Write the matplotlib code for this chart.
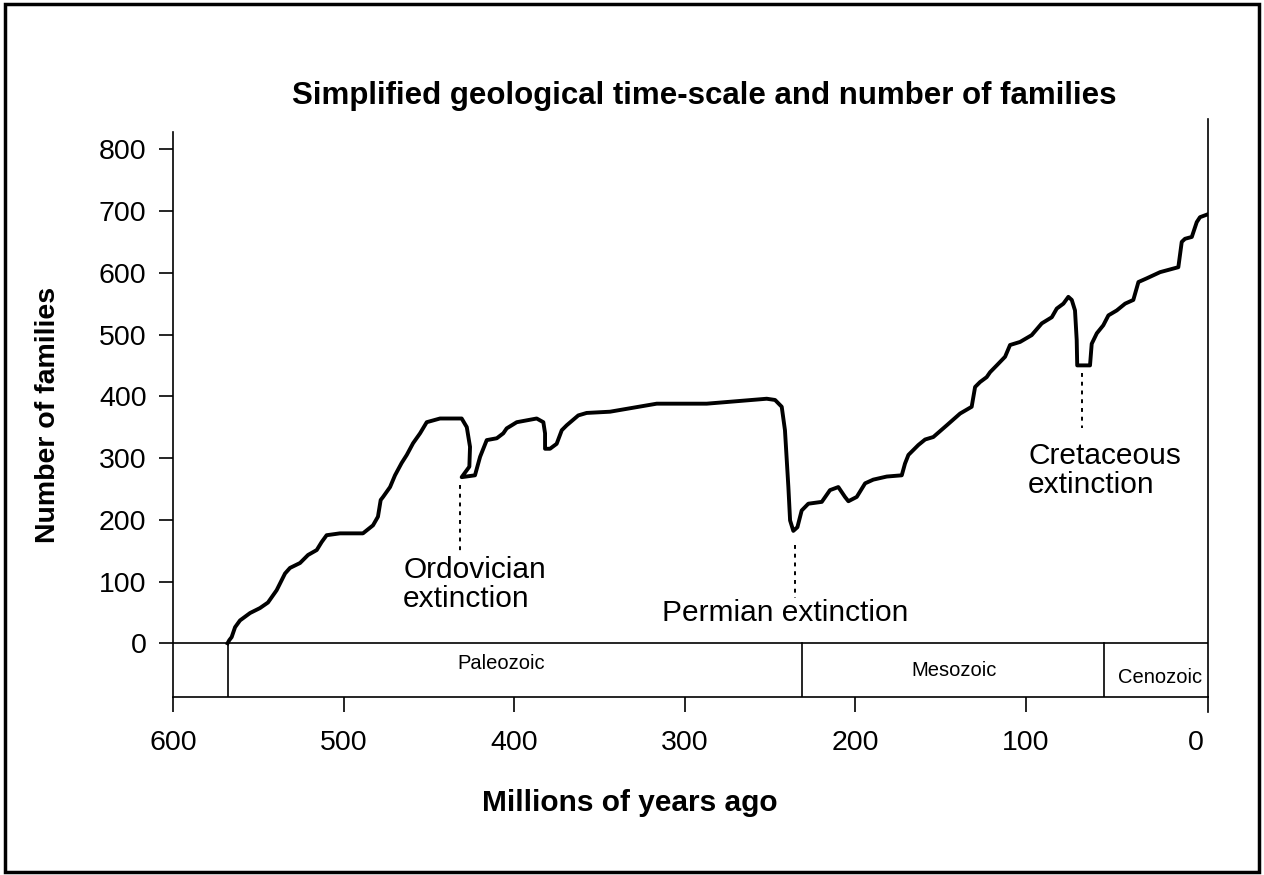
import matplotlib
matplotlib.use("Agg")
import matplotlib.pyplot as plt
from matplotlib.patches import Rectangle

plt.rcParams['font.family'] = ['Liberation Sans', 'DejaVu Sans']

# number of families through time (millions of years ago)
age = [568, 567, 565.6, 563.6, 560.7, 554.8, 549.0, 544.3, 539.2, 534.3, 531.4,
       525.5, 520.8, 515.7, 512.8, 509.9, 502.1, 488.6, 482.7, 479.8, 478.2,
       476.8, 472.7, 469.8, 465.9, 462.9, 459.2, 455.1, 451.2, 443.4, 430.7,
       427.7, 425.8, 426.2, 430.7, 422.9, 419.9, 416.0, 410.1, 406.3, 404.3,
       398.4, 386.7, 382.8, 381.8, 381.8, 378.9, 375.0, 372.0, 369.1, 362.3,
       357.4, 343.7, 316.3, 287.0, 251.8, 246.9, 243.0, 241.1, 239.1, 238.1,
       236.2, 233.8, 231.3, 227.4, 219.5, 214.7, 209.8, 205.9, 203.9, 199.0,
       194.1, 189.3, 181.4, 172.6, 170.7, 168.7, 162.9, 158.9, 154.1, 146.2,
       138.4, 131.6, 129.6, 126.7, 122.8, 120.8, 116.9, 112.0, 109.1, 103.2,
       96.4, 90.5, 84.6, 81.7, 77.8, 74.9, 72.9, 71.0, 70.0, 69.7, 62.2, 61.2,
       58.2, 54.4, 51.4, 46.5, 41.6, 36.8, 33.8, 28.9, 21.1, 10.4, 8.4, 6.5,
       2.5, -0.4, -2.3, -7.2]
families = [0, 5, 10, 26, 37, 49, 57, 66, 86, 113, 122,
            130, 143, 151, 164, 175, 178, 178, 191, 205, 232,
            237, 253, 272, 292, 305, 324, 340, 358, 364, 364,
            350, 318, 286, 269, 272, 302, 329, 332, 340, 348,
            358, 364, 358, 340, 315, 315, 323, 345, 353, 369,
            373, 375, 388, 388, 396, 394, 383, 345, 253, 199,
            182, 188, 215, 226, 229, 248, 253, 237, 230, 237,
            259, 265, 270, 272, 291, 305, 321, 330, 334, 353,
            372, 383, 415, 423, 431, 439, 450, 464, 483, 488,
            499, 518, 528, 542, 550, 561, 556, 539, 491, 450, 450, 485,
            502, 515, 531, 539, 550, 556, 585, 591, 601, 609, 650, 655,
            658, 682, 690, 695]

x_ticks = [600, 500, 400, 300, 200, 100, 0]
y_ticks = [0, 100, 200, 300, 400, 500, 600, 700, 800]

# era boundaries and labels
era_bounds = [568, 231, 54]
era_names = ['Paleozoic', 'Mesozoic', 'Cenozoic']
era_label_x = [433, 167, 46]
era_label_y = [-32, -44, -55]

# extinction annotations
ext_names = ['Ordovician\nextinction', 'Permian extinction', 'Cretaceous\nextinction']
ext_text_x = [465, 313, 98.5]
ext_text_y = [95, 49, 280]
ext_line_x = [431.7, 235.2, 67.0]
ext_line_top = [256, 159, 437]
ext_line_bot = [147, 73, 348]

x_left, x_right = 600, -7
y_bot, y_top = -87, 849

fig = plt.figure(figsize=(12.64, 8.75), dpi=100)
ax = fig.add_axes([173 / 1264, 1 - 697 / 875, (1208 - 173) / 1264, (697 - 119) / 875])

ax.plot(age, families, color='black', lw=2.8, solid_joinstyle='round', zorder=3)

ax.set_xlim(x_left, x_right)
ax.set_ylim(y_bot, y_top)

ax.spines['top'].set_visible(False)
for s in ['left', 'right', 'bottom']:
    ax.spines[s].set_linewidth(1.2)
ax.spines['left'].set_bounds(y_bot, 828)

ax.set_xticks(x_ticks)
ax.set_yticks(y_ticks)
ax.tick_params(axis='x', direction='out', length=11, width=1.2, pad=13, labelsize=20.5)
ax.tick_params(axis='y', direction='out', length=10, width=1.2, pad=9, labelsize=20.5)
ax.xaxis.get_major_ticks()[-1].tick1line.set_visible(False)
ax.plot([x_right, x_right], [y_bot, y_bot - 24], color='black', lw=1.2, clip_on=False)

# time-scale band
ax.axhline(0, color='black', lw=1.2)
for b in era_bounds:
    ax.plot([b, b], [y_bot, 0], color='black', lw=1.2)
for name, ex, ey in zip(era_names, era_label_x, era_label_y):
    ax.text(ex, ey, name, fontsize=14.5, ha='left', va='center')

for name, tx, ty, lx, lt, lb in zip(ext_names, ext_text_x, ext_text_y,
                                    ext_line_x, ext_line_top, ext_line_bot):
    ax.plot([lx, lx], [lt, lb], color='black', lw=1.4, dashes=(2, 2.5))
    ax.text(tx, ty, name, fontsize=21.5, ha='left', va='center', linespacing=1.05)

fig.text(0.557, 0.890, 'Simplified geological time-scale and number of families',
         fontsize=22.5, fontweight='bold', ha='center', va='center')
fig.text(0.498, 0.082, 'Millions of years ago', fontsize=21.5, fontweight='bold',
         ha='center', va='center')
fig.text(0.038, 0.526, 'Number of families', fontsize=20.5, fontweight='bold',
         ha='center', va='center', rotation=90)

fig.patches.append(Rectangle((0.004, 0.004), 0.992, 0.992, transform=fig.transFigure,
                             fill=False, edgecolor='black', lw=2.5))

fig.savefig('out.png', dpi=100)
